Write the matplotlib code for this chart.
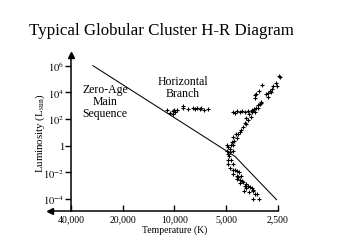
import matplotlib
matplotlib.use('Agg')
import matplotlib.pyplot as plt
from matplotlib.ticker import NullLocator, FixedLocator, FixedFormatter
import numpy as np

plt.rcParams['font.family'] = ['Liberation Serif', 'DejaVu Serif']
plt.rcParams['mathtext.fontset'] = 'stix'

# Zero-age main sequence line (temperature K, log10 luminosity)
ms_T = [29800, 4450, 2550]
ms_logL = [6.0, -0.8, -4.05]

# Horizontal branch stars
hb_T = [11120, 10640, 10260, 10080, 9940, 10170, 9730, 8970, 8890, 8320,
        7850, 7610, 7390, 7130, 6970, 6750, 6370]
hb_logL = [2.65, 2.45, 2.60, 2.70, 2.53, 2.40, 2.65, 2.95, 2.85, 2.78,
           2.85, 2.78, 2.85, 2.78, 2.85, 2.70, 2.78]

# Giant branches, turnoff and lower main sequence stars
gb_T = [2460, 2440, 2551, 2530, 2668, 2692, 2789, 2752, 2852, 2917, 2852,
        3091, 3218, 3335, 3410, 3410, 3119, 3189, 3261, 3147, 3261, 3365,
        3410, 3518, 3565, 3678, 3613, 3812, 3728, 3898, 3846, 3986, 4076,
        4168, 4262, 4396, 4320, 4557, 4496, 4660, 4722, 4557, 4982, 4872,
        4765, 4982, 4557, 4894, 4808, 4765,
        4557, 4456, 4320, 4168, 4022, 3898, 3761, 3565, 3456,
        4872, 4722, 4872, 4557, 4765, 4597, 4456, 4320, 4206, 4557, 4358,
        4262, 4076, 4320, 4168, 4022, 4131, 3986, 3812, 3898, 3728, 3646,
        3812, 3565, 3487, 3933, 3678, 3487, 3410, 3305, 3487, 3218]
gb_logL = [5.25, 5.13, 4.68, 4.50, 4.45, 4.25, 4.13, 4.00, 3.93, 3.88, 3.63,
           4.55, 4.13, 3.88, 3.83, 3.55, 3.30, 3.13, 3.08, 3.18, 2.80, 2.80,
           2.50, 2.70, 2.50, 2.38, 2.13, 2.05, 1.95, 1.70, 1.60, 1.38, 1.20,
           1.05, 0.88, 0.88, 0.55, 0.63, 0.38, 0.30, 0.05, 0.05, 0.05, -0.12,
           -0.25, -0.37, -0.37, -0.62, -0.75, -0.50,
           2.55, 2.43, 2.60, 2.55, 2.63, 2.50, 2.58, 2.63, 2.75,
           -1.05, -1.05, -1.37, -1.37, -1.70, -1.80, -1.80, -1.87, -1.95, -2.12, -2.25,
           -2.37, -2.25, -2.50, -2.55, -2.62, -2.80, -2.75, -2.87, -3.00, -3.00, -3.12,
           -3.20, -3.20, -3.30, -3.37, -3.45, -3.37, -3.62, -3.62, -4.00, -4.00]

xticks = [40000, 20000, 10000, 5000, 2500]
xticklabels = ['40,000', '20,000', '10,000', '5,000', '2,500']
yticks = [1e6, 1e4, 1e2, 1, 1e-2, 1e-4]
yticklabels = [r'$10^{6}$', r'$10^{4}$', r'$10^{2}$', '1', r'$10^{-2}$', r'$10^{-4}$']

W, H = 337, 251
fig = plt.figure(figsize=(W / 100, H / 100), dpi=100)
ax = fig.add_axes([50 / W, 1 - 212 / H, 228 / W, 156 / H])
ax.set_xscale('log')
ax.set_yscale('log')
x_left = 52970
y_top = 10 ** 6.8
y_bot = 10 ** -4.9
ax.set_xlim(x_left, 2500)
ax.set_ylim(y_bot, y_top)

ax.plot(ms_T, 10 ** np.array(ms_logL), color='black', lw=0.75)
ax.plot(hb_T, 10 ** np.array(hb_logL), linestyle='none', marker='+',
        ms=3.4, mew=0.8, color='black')
ax.plot(gb_T, 10 ** np.array(gb_logL), linestyle='none', marker='+',
        ms=3.4, mew=0.8, color='black', clip_on=False)

for s in ['top', 'right']:
    ax.spines[s].set_visible(False)
ax.spines['left'].set_position(('data', 40000))
ax.spines['left'].set_linewidth(1.1)
ax.spines['bottom'].set_linewidth(1.1)

ax.xaxis.set_major_locator(FixedLocator(xticks))
ax.xaxis.set_major_formatter(FixedFormatter(xticklabels))
ax.xaxis.set_minor_locator(NullLocator())
ax.yaxis.set_major_locator(FixedLocator(yticks))
ax.yaxis.set_major_formatter(FixedFormatter(yticklabels))
ax.yaxis.set_minor_locator(NullLocator())
ax.tick_params(axis='x', direction='in', length=4.5, width=1.0, pad=2.5,
               labelsize=7)
ax.tick_params(axis='y', direction='out', length=4, width=1.0, pad=1,
               labelsize=7.5)

# arrow heads
ax.plot([40000], [y_top], marker='^', ms=4.5, color='black', clip_on=False)
ax.plot([x_left], [y_bot], marker='<', ms=4.5, color='black', clip_on=False)

fig.text(161 / W, 1 - 31 / H, 'Typical Globular Cluster H-R Diagram',
         ha='center', va='center', fontsize=12.2)
fig.text(40 / W, 1 - 133 / H, r'Luminosity (L$_{\rm sun}$)', rotation=90,
         ha='center', va='center', fontsize=7.8)
fig.text(175 / W, 1 - 230 / H, 'Temperature (K)', ha='center', va='center',
         fontsize=7)
fig.text(105 / W, 1 - 102 / H, 'Zero-Age\nMain\nSequence', ha='center',
         va='center', fontsize=8.5, linespacing=0.95)
fig.text(183 / W, 1 - 88 / H, 'Horizontal\nBranch', ha='center',
         va='center', fontsize=8.5, linespacing=0.95)

fig.savefig('out.png', dpi=100)
